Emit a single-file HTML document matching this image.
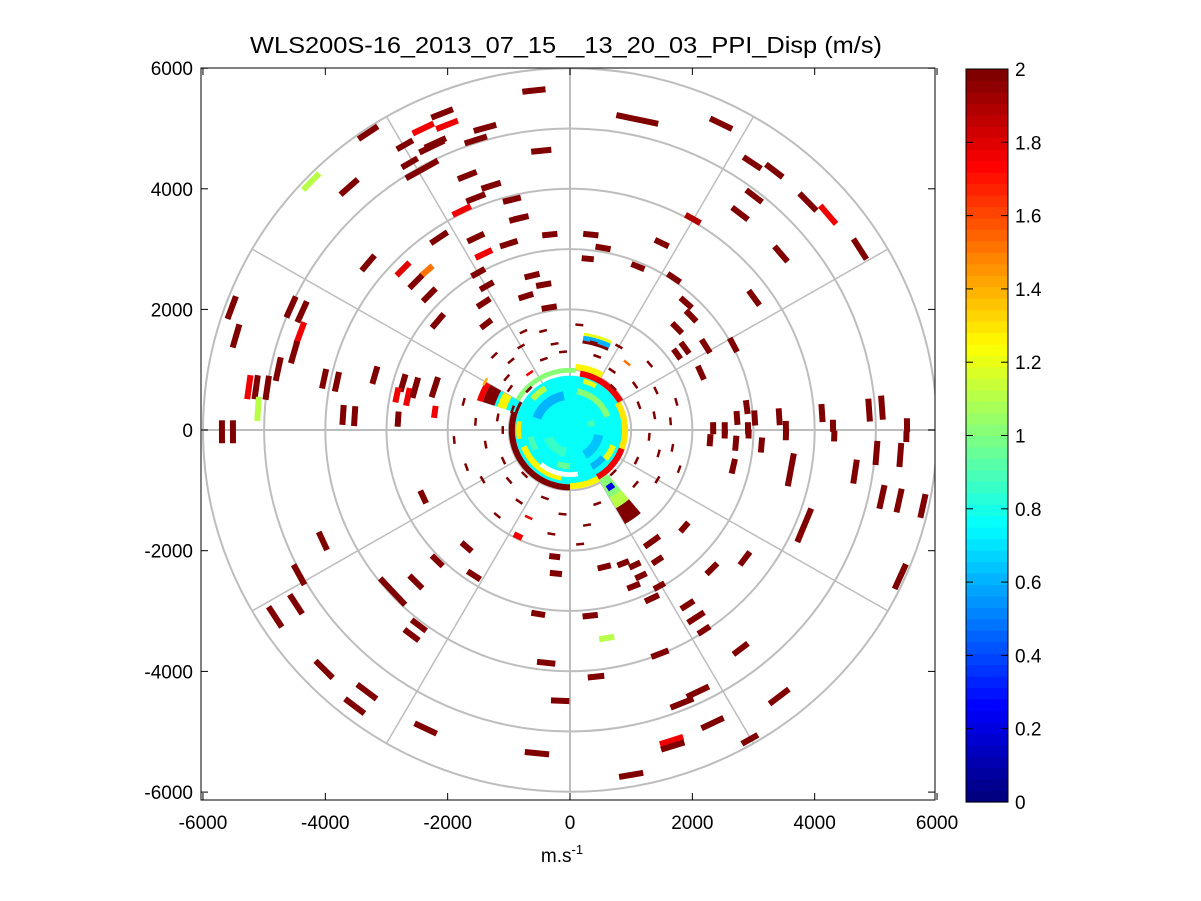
<!DOCTYPE html>
<html><head><meta charset="utf-8">
<style>
html,body{margin:0;padding:0;background:#fff;}
svg{display:block;font-family:"Liberation Sans",Arial,sans-serif;}
</style></head>
<body>
<svg id="chart" width="1201" height="901" viewBox="0 0 1201 901" xmlns="http://www.w3.org/2000/svg">
<rect x="0" y="0" width="1201" height="901" fill="#fff"/>
<text x="566" y="53" font-size="23" text-anchor="middle" textLength="632" lengthAdjust="spacingAndGlyphs">WLS200S-16_2013_07_15__13_20_03_PPI_Disp (m/s)</text>
<defs><clipPath id="plotclip"><rect x="201" y="68" width="734" height="732"/></clipPath></defs>
<g id="grid" clip-path="url(#plotclip)"></g>
<g id="marks" clip-path="url(#plotclip)"></g>
<rect x="201" y="68" width="734" height="732" fill="none" stroke="#000" stroke-width="1"/>
<g id="axes"></g>
<g id="cbar"></g>
<text x="562" y="862" font-size="19" text-anchor="middle">m.s<tspan dy="-8" font-size="13">-1</tspan></text>
</svg>
<script>
const xTicks=[-6000,-4000,-2000,0,2000,4000,6000];
const yTicks=[-6000,-4000,-2000,0,2000,4000,6000];
const cbTicks=[0,0.2,0.4,0.6,0.8,1,1.2,1.4,1.6,1.8,2];
const ringRadii=[1000,2000,3000,4000,5000,6000];
const spokeAngles=[0,30,60,90,120,150,180,210,240,270,300,330];
// returns: x (m), y (m), value (m/s), azimuthal extent (m)
const gateX=[-590,-2090,-2400,-2010,-1390,-1540,-2260,-2200,-2700,-470,-2620,-3300,-2420,-4230,-3610,-1680,-1290,-1540,-1770,-950,-870,-800,-330,-1000,-1540,-2140,-3300,-1410,-2730,-2340,-2520,-2300,-1500,-1360,-620,-430,-720,-340,-1410,-2160,-1370,-5530,-5460,-4560,-4380,-4410,-4510,-4770,-5250,-5130,-4950,-5100,-5690,-5510,-4020,-3810,-3190,-2730,-2830,-2650,-2530,-2210,-2210,-3710,-3520,-2810,
1100,2470,2980,3340,3010,3890,4220,2780,2010,340,540,290,1500,1110,3450,4740,1700,3010,1900,1980,1750,1880,2220,2670,1750,2140,2890,2730,3020,3420,4120,4890,5100,4300,5510,3530,2530,2340,2910,
-2400,-4040,-4430,-4480,-4820,-2900,-2520,-2170,-1690,-1570,-250,-230,-520,-2470,-2590,-4020,-3320,-3520,-2360,-390,-160,-540,-850,
2290,2710,3130,3530,2530,2920,4320,5500,2670,3610,4660,5010,5400,5100,5380,5770,3830,1870,2860,2320,5400,1340,1430,1060,870,560,1160,1040,1460,1340,1920,2060,2190,330,600,2790,1470,425,2090,1830,3420,2330,1660,1680,2940,1000];
const gateY=[5630,5250,5000,5060,5010,4810,4700,4760,4730,4630,4430,4930,4320,4120,4030,4220,4050,3850,3640,3820,3500,3520,3240,3090,3190,3190,2770,2920,2670,2640,2460,2240,2610,2390,2560,2410,2220,2030,2110,1810,1760,2030,1560,2040,1960,1610,1290,1010,710,710,700,350,-30,-30,850,800,910,780,580,550,700,710,300,250,230,180,
5150,5080,4430,4300,3880,3780,3570,3590,3500,3240,3020,2840,3100,2710,2920,3000,2520,2190,2110,1890,1690,1360,1390,1410,1260,950,380,200,200,220,280,330,370,70,80,50,30,30,30,
-1110,-1840,-2400,-2890,-3100,-2680,-2520,-2170,-1940,-2410,-2100,-2380,-3050,-3240,-3400,-3970,-4340,-4580,-4950,-3860,-4490,-5360,-1760,
-170,-220,-250,-80,-66,-66,-100,-110,-600,-660,-690,-380,-415,-1110,-1170,-1260,-1580,-1610,-2130,-2300,-2430,-1850,-2160,-2240,-2210,-2270,-2420,-2590,-2590,-2790,-2900,-3110,-3320,-3080,-3450,-3630,-3710,-4090,-4340,-4530,-4420,-4860,-5150,-5240,-5130,-5720];
const gateV=[2,2,1.75,1.75,2,2,2,2,2,2,2,2,2,1.1,2,2,2,2,1.75,2,2,2,2,2,2,2,2,1.75,1.8,1.5,2,2,2,2,2,2,2,2,2,2,2,2,2,2,2,1.75,2,2,1.75,2,2,1.1,2,2,2,2,2,2,1.75,1.75,2,2,1.75,2,2,2,
2,2,2,2,2,2,1.75,2,1.9,2,2,2,2,2,2,2,2,2,2,2,2,2,2,2,2,2,2,2,2,2,2,2,2,2,2,2,2,2,2,
2,2,2,2,2,2,2,2,2,2,2,2,2,2,2,2,2,2,2,2,2,2,1.75,
2,2,2,2,2,2,2,2,2,2,2,2,2,2,2,2,2,2,2,2,2,2,2,2,2,2,2,2,2,2,2,2,2,2,1.1,2,2,2,2,2,2,2,1.75,2,2,2];
const gateL=[380,380,380,380,380,380,450,380,300,330,300,380,600,380,380,330,330,330,330,300,250,250,250,300,300,330,330,300,300,250,300,300,250,250,250,250,250,250,250,300,220,400,400,380,380,380,380,400,400,400,400,400,380,380,330,330,300,300,250,300,350,350,200,330,330,250,
700,400,350,350,330,400,400,330,280,250,250,200,250,230,330,400,250,300,250,250,230,230,260,260,200,250,230,230,250,280,300,380,400,200,230,200,200,200,200,
230,330,380,380,400,600,300,250,220,250,180,200,230,300,300,400,400,400,400,300,300,400,150,
200,250,250,180,150,150,180,180,250,550,400,400,400,400,400,400,600,200,270,250,450,300,200,200,200,220,200,220,200,250,250,320,230,250,250,300,300,270,400,400,400,400,400,400,300,400];
// small near-range returns: azimuth (deg), range (m), value
const dashAz=[100,95,110,120,115,130,135,140,125,145,150,105,85,75,70,60,55,50,40,35,25,20,15,10,5,-5,-10,-15,-20,-25,-30,-40,-70,-80,-85,-95,-100,-110,-115,-125,-130,-140,-150,-155,-160,-170,175,170,165,160,155,-175,180,-45,-135,45,135];
const dashR=[1450,1300,1250,1600,1800,1500,1750,1350,1150,1200,1600,1700,1750,1500,1300,1600,1200,1450,1700,1300,1550,1200,1800,1400,1650,1300,1700,1500,1900,1200,1650,1400,1300,1600,1900,1400,1750,1200,1600,1450,1850,1300,1650,1200,1800,1400,1550,1200,1800,1000,1450,1900,1100,1000,1050,1000,950];
const dashV=[2,2,2,2,2,2,2,2,1.75,2,1.4,2,2,2,2,2,2,1.5,2,2,2,2,2,2,2,2,2,2,2,2,2,2,2,2,2,2,2,2,1.75,2,2,2,2,2,2,2,2,2,2,2,2,2,2,2,2,2,2];
// near-range sectors: az start, az end (deg), r start, r end (m), value (-1 = no data)
const secA0=[-180,20,100,-60,200,150,270,300,-20,30,60,85,200,230,65,65,65,150,150,150,150,-60,-60,-60,-58,-40,120,170,250,300,10,60,190];
const secA1=[180,80,160,-10,260,270,300,340,30,80,85,150,260,280,82,82,82,162,162,162,162,-50,-50,-50,-52,-20,140,190,270,320,25,75,210];
const secR0=[0,600,500,400,300,900,880,850,850,900,1000,950,750,700,1500,1580,1450,950,1100,1300,1500,950,1300,1500,1100,700,750,800,550,650,300,800,600];
const secR1=[900,700,650,550,450,1000,980,950,950,1000,1100,1030,850,780,1580,1630,1500,1500,1250,1500,1600,1300,1500,1800,1200,800,850,880,650,760,420,880,700];
const secV=[0.75,1.0,0.6,0.65,0.85,2,1.25,1.75,1.3,1.75,1.25,1.0,1.25,-1,0.6,1.2,2,0.75,1.25,2,1.75,1.0,1.1,2,0.2,1.2,1.1,1.3,0.95,0.6,0.9,1.2,0.9];

const NS='http://www.w3.org/2000/svg';
const CX=570, CY=430, SX=0.06117, SY=0.0603;
function px(x){return CX+x*SX;}
function py(y){return CY-y*SY;}
function cb(v){return 802-v/2*733;}
function jet(v){
  let t=Math.max(0,Math.min(1,v/2));
  t=Math.min(63,Math.floor(t*64))/63;
  const c=u=>Math.round(255*Math.max(0,Math.min(1,1.5-Math.abs(4*t-u))));
  return 'rgb('+c(3)+','+c(2)+','+c(1)+')';
}
function mk(tag,attrs,parent){const e=document.createElementNS(NS,tag);for(const k in attrs)e.setAttribute(k,attrs[k]);parent.appendChild(e);return e;}
const grid=document.getElementById('grid'), marks=document.getElementById('marks'), axes=document.getElementById('axes'), cbar=document.getElementById('cbar');

ringRadii.forEach(r=>{
  const e=mk('ellipse',{cx:CX,cy:CY,rx:r*SX,ry:r*SY,fill:'none',stroke:'#bdbdbd','stroke-width':2},grid);
  
  
});
spokeAngles.forEach(a=>{
  const t=a*Math.PI/180, R=6000;
  const e=mk('line',{x1:CX,y1:CY,x2:px(R*Math.cos(t)),y2:py(R*Math.sin(t)),stroke:'#bdbdbd','stroke-width':(a%90===0)?2:1.5},grid);
  
  
});

function sectorPath(a0,a1,r0,r1){
  const pts=[];const n=Math.max(4,Math.ceil(Math.abs(a1-a0)/3));
  for(let i=0;i<=n;i++){const t=(a0+(a1-a0)*i/n)*Math.PI/180;pts.push([px(r1*Math.cos(t)),py(r1*Math.sin(t))]);}
  for(let i=n;i>=0;i--){const t=(a0+(a1-a0)*i/n)*Math.PI/180;pts.push([px(r0*Math.cos(t)),py(r0*Math.sin(t))]);}
  return 'M'+pts.map(p=>p[0].toFixed(1)+','+p[1].toFixed(1)).join('L')+'Z';
}
for(let i=0;i<secV.length;i++){
  const e=mk('path',{d:sectorPath(secA0[i],secA1[i],secR0[i],secR1[i]),fill:secV[i]<0?'#fff':jet(secV[i])},marks);
  
  
}
function gatePoly(x,y,len,wpx){
  const r=Math.hypot(x,y)||1, ux=-y/r, uy=x/r;
  const x0=x-ux*len/2, y0=y-uy*len/2, x1=x+ux*len/2, y1=y+uy*len/2;
  let dx=ux*SX, dy=-uy*SY; const dl=Math.hypot(dx,dy); dx/=dl; dy/=dl;
  const nx=-dy*wpx/2, ny=dx*wpx/2;
  const p=[[px(x0)+nx,py(y0)+ny],[px(x1)+nx,py(y1)+ny],[px(x1)-nx,py(y1)-ny],[px(x0)-nx,py(y0)-ny]];
  return p.map(q=>q[0].toFixed(1)+','+q[1].toFixed(1)).join(' ');
}
for(let i=0;i<gateX.length;i++){
  const e=mk('polygon',{points:gatePoly(gateX[i],gateY[i],gateL[i],6),fill:jet(gateV[i])},marks);
  
  
}
for(let i=0;i<dashAz.length;i++){
  const t=dashAz[i]*Math.PI/180;
  const e=mk('polygon',{points:gatePoly(dashR[i]*Math.cos(t),dashR[i]*Math.sin(t),130,2.5),fill:jet(dashV[i])},marks);
  
  
}

xTicks.forEach(v=>{
  const x=px(v);
  let e=mk('line',{x1:x,y1:800,x2:x,y2:793,stroke:'#000'},axes);
  
  
  e=mk('line',{x1:x,y1:68,x2:x,y2:75,stroke:'#000'},axes);
  
  
  e=mk('text',{x:x,y:829,'font-size':19,'text-anchor':'middle'},axes);
  e.textContent=String(v);
  
  
});
yTicks.forEach(v=>{
  const y=py(v)-(v<0?v*0.00005:0);
  let e=mk('line',{x1:201,y1:y,x2:208,y2:y,stroke:'#000'},axes);
  
  
  e=mk('line',{x1:935,y1:y,x2:928,y2:y,stroke:'#000'},axes);
  
  
  e=mk('text',{x:193,y:y+7,'font-size':19,'text-anchor':'end'},axes);
  e.textContent=String(v);
  
  
});

for(let k=0;k<64;k++){
  const v0=k/64*2, v1=(k+1)/64*2;
  const e=mk('rect',{x:966,y:cb(v1),width:42,height:cb(v0)-cb(v1)+0.6,fill:jet((v0+v1)/2)},cbar);
  
  
}
let fr=mk('rect',{x:966,y:69,width:42,height:733,fill:'none',stroke:'#000'},cbar);


cbTicks.forEach(v=>{
  const y=cb(v);
  let e=mk('line',{x1:966,y1:y,x2:973,y2:y,stroke:'#000'},cbar);
  
  
  e=mk('line',{x1:1008,y1:y,x2:1001,y2:y,stroke:'#000'},cbar);
  
  
  e=mk('text',{x:1015,y:y+7,'font-size':19},cbar);
  e.textContent=String(v);
  
  
});
</script>
</body></html>
